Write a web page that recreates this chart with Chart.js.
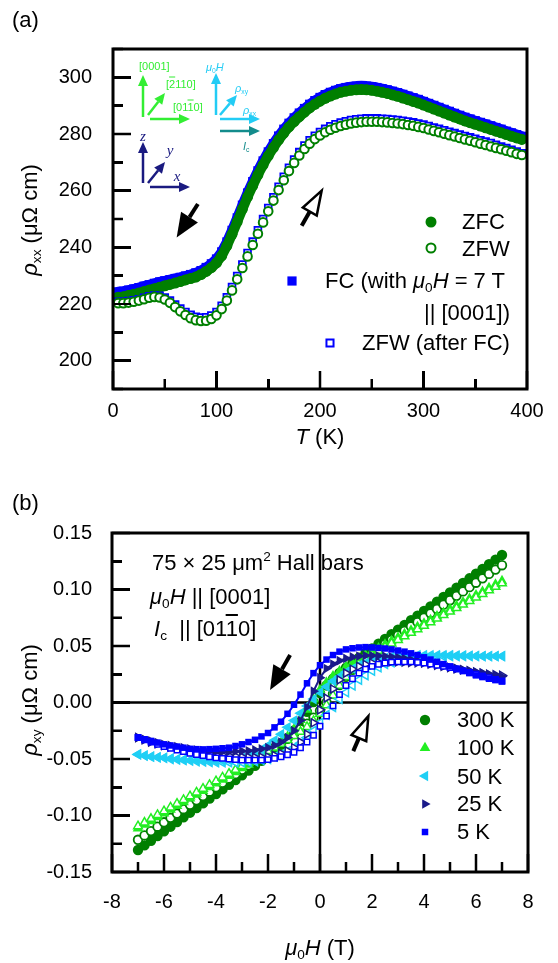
<!DOCTYPE html>
<html>
<head>
<meta charset="utf-8">
<title>rho_xx (T) and Hall loops</title>
<script src="https://cdn.jsdelivr.net/npm/chart.js@4.4.1/dist/chart.umd.min.js"></script>
<style>
  html, body { margin: 0; padding: 0; background: #fff; }
  #fig { position: relative; width: 558px; height: 963px; overflow: hidden;
         font-family: "Liberation Sans", Arial, sans-serif; color: #000; }
  #fig canvas { position: absolute; left: 0; }
  .t { position: absolute; white-space: nowrap; line-height: 1; font-size: 22px; transform: translateY(-50%); }
  .c { transform: translate(-50%, -50%); }
  .r { transform: translate(-100%, -50%); }
  .rot { transform: translate(-50%, -50%) rotate(-90deg); }
  .s { font-size: 11px; }
  .ax { font-family: "Liberation Serif", "DejaVu Serif", serif; font-style: italic; font-size: 15px; }
  .ov { text-decoration: overline; }
  .tk { position: absolute; background: #000; }
  sub, sup { font-size: 62%; line-height: 0; }
  sub { vertical-align: -0.3em; }
  sup { vertical-align: 0.65em; }
</style>
</head>
<body>
<div id="fig">
  <canvas id="chartA" width="558" height="470" style="top:0"></canvas>
  <canvas id="chartB" width="558" height="493" style="top:470px"></canvas>

  <div class="t" style="left:12px;top:20px">(a)</div>
  <div class="t" style="left:12px;top:503px">(b)</div>
  <div class="t rot" style="left:30px;top:220px"><i>ρ</i><sub>xx</sub> (μΩ cm)</div>
  <div class="t rot" style="left:30px;top:700px"><i>ρ</i><sub>xy</sub> (μΩ cm)</div>
  <div class="t c" style="left:320px;top:437px"><i>T</i> (K)</div>
  <div class="t c" style="left:320px;top:948px"><i>μ</i><sub>0</sub><i>H</i> (T)</div>

  <!-- legend (a) -->
  <div class="t" style="left:462px;top:222px">ZFC</div>
  <div class="t" style="left:462px;top:249px">ZFW</div>
  <div class="t" style="left:325px;top:281px">FC (with <i>μ</i><sub>0</sub><i>H</i> = 7 T</div>
  <div class="t r" style="left:510px;top:313px">|| [0001])</div>
  <div class="t" style="left:362px;top:343px">ZFW (after FC)</div>

  <!-- crystal axes inset (a) -->
  <div class="t s" style="left:139px;top:66px;color:#33ee33">[0001]</div>
  <div class="t s" style="left:166px;top:84px;color:#33ee33">[<span class="ov">2</span>110]</div>
  <div class="t s" style="left:173px;top:107px;color:#33ee33">[01<span class="ov">1</span>0]</div>
  <div class="t s" style="left:206px;top:67px;color:#22ccf5"><i>μ</i><sub>0</sub><i>H</i></div>
  <div class="t s" style="left:235px;top:88px;color:#22ccf5"><i>ρ</i><sub>xy</sub></div>
  <div class="t s" style="left:243px;top:110px;color:#22ccf5"><i>ρ</i><sub>xx</sub></div>
  <div class="t s" style="left:243px;top:146px;color:#138c8c"><i>I</i><sub>c</sub></div>
  <div class="t c ax" style="left:143px;top:136px;color:#1a1a80">z</div>
  <div class="t c ax" style="left:170px;top:150px;color:#1a1a80">y</div>
  <div class="t c ax" style="left:177px;top:176px;color:#1a1a80">x</div>

  <!-- annotation (b) -->
  <div class="t" style="left:152px;top:563px">75 × 25 μm<sup>2</sup> Hall bars</div>
  <div class="t" style="left:150px;top:597px"><i>μ</i><sub>0</sub><i>H</i> || [0001]</div>
  <div class="t" style="left:154px;top:629px"><i>I</i><sub>c</sub>&nbsp; || [01<span class="ov">1</span>0]</div>

  <!-- legend (b) -->
  <div class="t" style="left:457px;top:720px">300 K</div>
  <div class="t" style="left:457px;top:748px">100 K</div>
  <div class="t" style="left:457px;top:777px">50 K</div>
  <div class="t" style="left:457px;top:804px">25 K</div>
  <div class="t" style="left:457px;top:832px">5 K</div>
</div>

<script>
// ---------- panel (a): rho_xx vs T ----------
const tempK = [5,10,15,20,25,30,35,40,45,50,55,60,65,70,75,80,85,90,95,100,
  105,110,115,120,125,130,135,140,145,150,155,160,165,170,175,180,185,190,195,200,
  205,210,215,220,225,230,235,240,245,250,255,260,265,270,275,280,285,290,295,300,
  305,310,315,320,325,330,335,340,345,350,355,360,365,370,375,380,385,390,395];
const rhoZFC = [222.4,222.6,223.0,223.4,223.9,224.4,224.9,225.4,225.9,226.4,226.9,227.4,227.9,228.5,229.0,229.5,230.4,231.5,232.8,234.5,
  237.0,240.5,244.6,249.0,253.5,257.8,261.8,265.6,269.1,272.3,275.2,277.9,280.3,282.5,284.4,286.1,287.7,289.2,290.5,291.6,
  292.6,293.4,294.1,294.7,295.1,295.4,295.6,295.7,295.6,295.4,295.1,294.7,294.3,293.8,293.3,292.7,292.1,291.5,290.9,290.2,
  289.5,288.8,288.1,287.4,286.7,286.0,285.3,284.6,284.0,283.4,282.8,282.2,281.6,281.0,280.4,279.8,279.2,278.6,278.1];
const rhoFC = [224.3,224.5,224.9,225.3,225.8,226.3,226.8,227.3,227.8,228.2,228.6,229.0,229.4,229.9,230.4,231.0,231.8,232.9,234.2,235.9,
  238.4,241.9,246.0,250.4,254.9,259.2,263.2,267.0,270.5,273.7,276.6,279.3,281.7,283.8,285.7,287.4,289.0,290.5,291.8,292.9,
  293.9,294.7,295.4,296.0,296.4,296.7,296.9,297.0,296.9,296.7,296.4,296.0,295.6,295.1,294.6,294.0,293.4,292.8,292.2,291.5,
  290.8,290.1,289.4,288.7,288.0,287.3,286.6,285.9,285.3,284.7,284.1,283.5,282.9,282.3,281.7,281.0,280.4,279.8,279.2];
const rhoZFW = [220.3,220.3,220.5,220.8,221.2,221.7,222.2,222.5,222.3,221.6,220.4,218.9,217.4,216.1,215.0,214.3,214.0,214.1,214.7,216.0,
  218.2,221.2,224.8,228.7,232.7,236.8,240.8,244.8,248.8,252.7,256.5,260.2,263.7,266.9,269.8,272.4,274.7,276.6,278.2,279.5,
  280.6,281.5,282.2,282.8,283.3,283.7,284.0,284.2,284.3,284.3,284.3,284.2,284.1,283.9,283.7,283.5,283.2,282.9,282.5,282.1,
  281.6,281.1,280.6,280.1,279.6,279.1,278.6,278.1,277.6,277.1,276.6,276.1,275.6,275.1,274.6,274.1,273.6,273.0,272.6];
const rhoZFWafterFC = [220.8,220.8,221.0,221.3,221.7,222.2,222.7,223.0,222.9,222.3,221.2,219.8,218.4,217.2,216.2,215.5,215.2,215.3,215.9,217.2,
  219.4,222.4,226.0,229.9,233.9,238.0,242.0,246.0,250.0,253.9,257.7,261.4,264.9,268.1,271.0,273.6,275.9,277.8,279.4,280.7,
  281.8,282.7,283.4,284.0,284.5,284.9,285.2,285.4,285.5,285.5,285.5,285.4,285.3,285.1,284.9,284.7,284.4,284.1,283.7,283.3,
  282.8,282.3,281.8,281.3,280.8,280.3,279.8,279.3,278.8,278.3,277.8,277.3,276.8,276.2,275.6,275.0,274.4,273.8,273.2];
const xTicksA = [0, 100, 200, 300, 400];
const yTicksA = [200, 220, 240, 260, 280, 300];

// ---------- panel (b): rho_xy vs field, sweep down (filled) / sweep up (open) ----------
const fieldT = [-7,-6.75,-6.5,-6.25,-6,-5.75,-5.5,-5.25,-5,-4.75,-4.5,-4.25,-4,-3.75,-3.5,-3.25,-3,-2.75,-2.5,-2.25,
  -2,-1.75,-1.5,-1.25,-1,-0.75,-0.5,-0.25,0,0.25,0.5,0.75,1,1.25,1.5,1.75,2,2.25,2.5,2.75,
  3,3.25,3.5,3.75,4,4.25,4.5,4.75,5,5.25,5.5,5.75,6,6.25,6.5,6.75,7];
const hall300Down = [-0.1305,-0.1264,-0.1223,-0.1181,-0.1140,-0.1099,-0.1058,-0.1016,-0.0975,-0.0934,-0.0893,-0.0851,-0.0810,-0.0769,-0.0728,-0.0686,
  -0.0644,-0.0603,-0.0561,-0.0517,-0.0473,-0.0426,-0.0375,-0.0316,-0.0248,-0.0169,-0.0083,0.0004,0.0083,
  0.0151,0.0210,0.0261,0.0308,0.0352,0.0396,0.0438,0.0479,0.0521,0.0563,0.0604,0.0645,0.0686,0.0728,
  0.0769,0.0810,0.0851,0.0893,0.0934,0.0975,0.1016,0.1058,0.1099,0.1140,0.1181,0.1223,0.1264,0.1305];
const hall300Up = [-0.1215,-0.1176,-0.1138,-0.1099,-0.1060,-0.1021,-0.0983,-0.0944,-0.0905,-0.0866,-0.0828,-0.0789,-0.0750,-0.0711,-0.0673,-0.0634,
  -0.0595,-0.0556,-0.0518,-0.0479,-0.0440,-0.0400,-0.0361,-0.0321,-0.0279,-0.0235,-0.0188,-0.0134,-0.0072,
  0.0000,0.0078,0.0155,0.0227,0.0289,0.0343,0.0390,0.0434,0.0476,0.0516,0.0555,0.0594,0.0634,0.0673,
  0.0711,0.0750,0.0789,0.0828,0.0866,0.0905,0.0944,0.0983,0.1021,0.1060,0.1099,0.1138,0.1176,0.1215];
const hall100Down = [-0.1115,-0.1082,-0.1049,-0.1015,-0.0982,-0.0949,-0.0916,-0.0882,-0.0849,-0.0816,-0.0783,-0.0749,-0.0716,-0.0683,-0.0650,-0.0616,
  -0.0582,-0.0549,-0.0514,-0.0479,-0.0443,-0.0403,-0.0357,-0.0303,-0.0236,-0.0155,-0.0063,0.0030,0.0111,
  0.0178,0.0233,0.0277,0.0316,0.0351,0.0385,0.0418,0.0449,0.0481,0.0513,0.0544,0.0575,0.0606,0.0638,
  0.0669,0.0700,0.0731,0.0763,0.0794,0.0825,0.0856,0.0888,0.0919,0.0950,0.0981,0.1013,0.1044,0.1075];
const hall100Up = [-0.1095,-0.1062,-0.1029,-0.0995,-0.0962,-0.0929,-0.0896,-0.0862,-0.0829,-0.0796,-0.0763,-0.0729,-0.0696,-0.0663,-0.0630,-0.0596,
  -0.0563,-0.0530,-0.0497,-0.0463,-0.0430,-0.0398,-0.0366,-0.0332,-0.0297,-0.0259,-0.0216,-0.0163,-0.0100,
  -0.0024,0.0063,0.0149,0.0225,0.0288,0.0341,0.0384,0.0422,0.0457,0.0491,0.0523,0.0554,0.0586,0.0618,
  0.0649,0.0680,0.0711,0.0743,0.0774,0.0805,0.0836,0.0868,0.0899,0.0930,0.0961,0.0993,0.1024,0.1055];
const hall50Down = [-0.046,-0.047,-0.048,-0.0485,-0.049,-0.0495,-0.050,-0.0505,-0.051,-0.0513,-0.0516,-0.0518,-0.052,-0.0516,-0.051,-0.050,
  -0.049,-0.0475,-0.045,-0.042,-0.038,-0.0335,-0.028,-0.022,-0.016,-0.0095,-0.003,0.003,0.009,
  0.014,0.019,0.023,0.027,0.030,0.033,0.035,0.037,0.0385,0.0395,0.0405,0.041,0.0415,0.042,
  0.042,0.042,0.042,0.042,0.042,0.042,0.0418,0.0416,0.0414,0.0412,0.041,0.041,0.041,0.041];
const hall50Up = [-0.046,-0.047,-0.048,-0.0485,-0.049,-0.050,-0.0505,-0.051,-0.0515,-0.052,-0.0523,-0.0527,-0.053,-0.053,-0.053,-0.053,
  -0.053,-0.0525,-0.052,-0.051,-0.050,-0.048,-0.046,-0.0435,-0.040,-0.036,-0.031,-0.025,-0.018,
  -0.011,-0.004,0.003,0.009,0.015,0.020,0.024,0.028,0.031,0.034,0.0355,0.037,0.038,0.039,
  0.0395,0.040,0.0403,0.0406,0.0408,0.041,0.041,0.041,0.041,0.041,0.041,0.041,0.041,0.041];
const hall25Down = [-0.031,-0.0325,-0.034,-0.0355,-0.037,-0.038,-0.039,-0.040,-0.041,-0.0418,-0.0425,-0.043,-0.0435,-0.0435,-0.0435,-0.0433,
  -0.043,-0.0427,-0.042,-0.041,-0.040,-0.038,-0.035,-0.031,-0.025,-0.016,-0.004,0.010,0.022,
  0.030,0.034,0.037,0.039,0.0403,0.041,0.0415,0.0415,0.0413,0.041,0.0405,0.040,0.039,0.038,
  0.037,0.036,0.035,0.034,0.0325,0.031,0.030,0.029,0.028,0.027,0.026,0.025,0.024,0.023];
const hall25Up = [-0.031,-0.033,-0.035,-0.0365,-0.038,-0.0393,-0.0405,-0.0418,-0.043,-0.0438,-0.0445,-0.0453,-0.046,-0.0465,-0.047,-0.0475,
  -0.048,-0.0483,-0.0485,-0.0483,-0.048,-0.0468,-0.045,-0.0428,-0.040,-0.035,-0.028,-0.018,-0.0065,
  0.004,0.012,0.020,0.026,0.0295,0.032,0.0337,0.035,0.0355,0.036,0.036,0.036,0.0358,0.0355,
  0.0353,0.035,0.034,0.033,0.032,0.031,0.030,0.029,0.028,0.027,0.026,0.025,0.0245,0.024];
const hall5Down = [-0.031,-0.0325,-0.034,-0.0355,-0.037,-0.038,-0.039,-0.040,-0.041,-0.0413,-0.0415,-0.0413,-0.041,-0.0405,-0.040,-0.0385,
  -0.037,-0.035,-0.033,-0.030,-0.027,-0.022,-0.017,-0.010,-0.002,0.007,0.017,0.026,0.033,
  0.038,0.042,0.045,0.047,0.048,0.0487,0.049,0.0487,0.0483,0.0478,0.047,0.046,0.045,0.0435,
  0.042,0.040,0.038,0.036,0.034,0.032,0.030,0.028,0.026,0.024,0.0225,0.021,0.0198,0.0186];
const hall5Up = [-0.031,-0.033,-0.035,-0.037,-0.039,-0.0405,-0.042,-0.0435,-0.045,-0.046,-0.047,-0.048,-0.049,-0.0495,-0.050,-0.0505,
  -0.051,-0.051,-0.051,-0.051,-0.0505,-0.0495,-0.048,-0.0462,-0.044,-0.040,-0.035,-0.029,-0.021,
  -0.012,-0.003,0.007,0.015,0.021,0.026,0.0295,0.032,0.0338,0.035,0.0357,0.036,0.036,0.036,
  0.0355,0.035,0.034,0.033,0.032,0.031,0.0295,0.028,0.0265,0.025,0.0235,0.022,0.0205,0.019];
const xTicksB = [-8, -6, -4, -2, 0, 2, 4, 6, 8];
const yTicksB = [-0.15, -0.10, -0.05, 0, 0.05, 0.10, 0.15];

// axis ranges, minor steps and tick mark lengths (px)
const axesA = { x: { min: 0, max: 400, minor: 50, major: xTicksA }, y: { min: 190, max: 310, minor: 10, major: yTicksA }, majLen: 18, minLen: 10 };
const axesB = { x: { min: -8, max: 8, minor: 1, major: xTicksB }, y: { min: -0.15, max: 0.15, minor: 0.025, major: yTicksB }, majLen: 18, minLen: 10 };

const DKGREEN = '#007f00', BLUE = '#0000ff';
const C300 = '#007f00', C100 = '#22ee22', C50 = '#1fcff5', C25 = '#1a1a8a', C5 = '#0000ff';

Chart.defaults.font.family = '"Liberation Sans", Arial, sans-serif';
Chart.defaults.color = '#000';

function pts(xs, ys) { return xs.map((v, i) => ({ x: v, y: ys[i] })); }

function series(label, xs, ys, mk, order, lineWidth) {
  return {
    label, order, data: pts(xs, ys),
    pointStyle: mk.shape, pointRadius: mk.r, pointRotation: mk.rot || 0,
    pointBackgroundColor: mk.bg, pointBorderColor: mk.border || mk.bg, pointBorderWidth: mk.bw || 0,
    showLine: !!lineWidth, borderColor: mk.border || mk.bg, borderWidth: lineWidth || 0,
    borderJoinStyle: 'round', borderCapStyle: 'round'
  };
}

function axis(ax, fmt, pad, size, horizontal) {
  return {
    type: 'linear', min: ax.min, max: ax.max,
    grid: { display: false, drawTicks: false },
    border: { display: false },
    ticks: { font: { size: 20 }, color: '#000', padding: pad, autoSkip: false, maxRotation: 0,
             callback: v => fmt(v) },
    afterBuildTicks: s => { s.ticks = ax.major.map(v => ({ value: v })); },
    afterFit: s => { if (horizontal) s.height = size; else s.width = size; }
  };
}

function arrow(ctx, x1, y1, x2, y2, opt) {
  const a = Math.atan2(y2 - y1, x2 - x1);
  const bx = x2 - opt.len * Math.cos(a), by = y2 - opt.len * Math.sin(a);
  const nx = Math.sin(a) * opt.half, ny = -Math.cos(a) * opt.half;
  ctx.save();
  ctx.strokeStyle = opt.color; ctx.fillStyle = opt.color;
  ctx.lineWidth = opt.width; ctx.lineCap = 'butt';
  ctx.beginPath(); ctx.moveTo(x1, y1); ctx.lineTo(bx, by); ctx.stroke();
  ctx.beginPath(); ctx.moveTo(x2, y2); ctx.lineTo(bx + nx, by + ny); ctx.lineTo(bx - nx, by - ny); ctx.closePath();
  if (opt.hollow) { ctx.fillStyle = '#fff'; ctx.fill(); ctx.lineJoin = 'miter'; ctx.lineWidth = 2.5; ctx.stroke(); }
  else ctx.fill();
  ctx.restore();
}

function marker(ctx, mk, x, y) {
  ctx.save();
  ctx.fillStyle = mk.bg; ctx.strokeStyle = mk.border || mk.bg; ctx.lineWidth = mk.bw || 0;
  Chart.helpers.drawPoint(ctx, { pointStyle: mk.shape, radius: mk.r, rotation: mk.rot || 0, borderWidth: mk.bw || 0 }, x, y);
  ctx.restore();
}

// tick mark rectangles (x, y, w, h) for the inward ticks on the bottom and left edges
function tickRects(chart, axes) {
  const a = chart.chartArea, sx = chart.scales.x, sy = chart.scales.y;
  const out = [];
  const nx = Math.round((axes.x.max - axes.x.min) / axes.x.minor);
  for (let i = 0; i <= nx; i++) {
    const v = axes.x.min + i * axes.x.minor, p = sx.getPixelForValue(v);
    const len = axes.x.major.some(m => Math.abs(m - v) < 1e-6) ? axes.majLen : axes.minLen;
    out.push([p - 1.25, a.bottom - len, 2.5, len]);
  }
  const ny = Math.round((axes.y.max - axes.y.min) / axes.y.minor);
  for (let i = 0; i <= ny; i++) {
    const v = axes.y.min + i * axes.y.minor, p = sy.getPixelForValue(v);
    const len = axes.y.major.some(m => Math.abs(m - v) < 1e-6) ? axes.majLen : axes.minLen;
    out.push([a.left, p - 1.25, len, 2.5]);
  }
  return out;
}

function drawTicks(chart, axes) {
  const ctx = chart.ctx;
  ctx.save();
  ctx.fillStyle = '#000';
  tickRects(chart, axes).forEach(r => ctx.fillRect(r[0], r[1], r[2], r[3]));
  ctx.restore();
}

// same tick marks as page elements on top of the canvas
function domTicks(chart, axes, top) {
  const fig = document.getElementById('fig');
  tickRects(chart, axes).forEach(r => {
    const d = document.createElement('div');
    d.className = 'tk';
    d.style.left = r[0] + 'px'; d.style.top = (top + r[1]) + 'px';
    d.style.width = r[2] + 'px'; d.style.height = r[3] + 'px';
    fig.appendChild(d);
  });
}

function drawBox(chart) {
  const ctx = chart.ctx, a = chart.chartArea;
  ctx.save();
  ctx.strokeStyle = '#000';
  ctx.lineWidth = 3;
  ctx.strokeRect(a.left, a.top, a.right - a.left, a.bottom - a.top);
  ctx.restore();
}

// ---------- chart (a) ----------
const mkZFC = { shape: 'circle', r: 5.5, bg: DKGREEN };
const mkZFW = { shape: 'circle', r: 4.3, bg: '#fff', border: DKGREEN, bw: 2 };
const mkFC = { shape: 'rect', r: 6.5, bg: BLUE };
const mkZFWfc = { shape: 'rect', r: 4.8, bg: '#fff', border: BLUE, bw: 1.8 };

// black sweep arrows, in data units (T, rho)
const sweepArrowsA = [
  { from: [82, 255.3], to: [61.5, 243.5], hollow: false },
  { from: [182.3, 247.6], to: [201.6, 260.0], hollow: true }
];
// orientation sketch, offsets in px from the top-left of the plot box
const insetArrows = [
  { c: '#33ee33', from: [30, 68], to: [30, 26] }, { c: '#33ee33', from: [35, 66], to: [52, 44] }, { c: '#33ee33', from: [37, 70], to: [77, 70] },
  { c: '#22ccf5', from: [103, 66], to: [103, 24] }, { c: '#22ccf5', from: [107, 66], to: [124, 46] }, { c: '#22ccf5', from: [107, 70], to: [147, 70] },
  { c: '#138c8c', from: [107, 82], to: [147, 82] },
  { c: '#1a1a80', from: [30, 134], to: [30, 93] }, { c: '#1a1a80', from: [35, 134], to: [52, 113] }, { c: '#1a1a80', from: [37, 138], to: [77, 138] }
];

const decoA = {
  id: 'decoA',
  beforeDatasetsDraw(chart) { drawTicks(chart, axesA); },
  afterDatasetsDraw(chart) {
    const { ctx, chartArea: a, scales: { x, y } } = chart;
    insetArrows.forEach(r => arrow(ctx, a.left + r.from[0], a.top + r.from[1], a.left + r.to[0], a.top + r.to[1],
      { color: r.c, width: 2.5, len: 11, half: 5 }));
    sweepArrowsA.forEach(r => arrow(ctx, x.getPixelForValue(r.from[0]), y.getPixelForValue(r.from[1]),
      x.getPixelForValue(r.to[0]), y.getPixelForValue(r.to[1]),
      { color: '#000', width: 4, len: 24, half: r.hollow ? 8 : 10, hollow: r.hollow }));
    marker(ctx, { shape: 'circle', r: 5.5, bg: DKGREEN }, a.left + 318, a.top + 173);
    marker(ctx, { shape: 'circle', r: 4.5, bg: '#fff', border: DKGREEN, bw: 2 }, a.left + 318, a.top + 199);
    marker(ctx, { shape: 'rect', r: 6.5, bg: BLUE }, a.left + 179, a.top + 232);
    marker(ctx, { shape: 'rect', r: 5, bg: '#fff', border: BLUE, bw: 2 }, a.left + 217, a.top + 294);
    drawBox(chart);
  }
};

const chartA = new Chart(document.getElementById('chartA'), {
  type: 'scatter',
  data: {
    datasets: [
      series('ZFW', tempK, rhoZFW, mkZFW, 0),
      series('ZFW (after FC)', tempK, rhoZFWafterFC, mkZFWfc, 1),
      series('ZFC', tempK, rhoZFC, mkZFC, 2, 10),
      series('FC', tempK, rhoFC, mkFC, 3, 10)
    ]
  },
  options: {
    responsive: false, animation: false, devicePixelRatio: 1, events: [],
    layout: { padding: { left: 33, right: 31, top: 49, bottom: 31 } },
    plugins: { legend: { display: false }, tooltip: { enabled: false } },
    scales: {
      x: axis(axesA.x, v => String(v), 10, 50, true),
      y: axis(axesA.y, v => String(v), 21, 80, false)
    }
  },
  plugins: [decoA]
});

// ---------- chart (b) ----------
const mk300 = { shape: 'circle', r: 5.2, bg: C300 };
const mk300o = { shape: 'circle', r: 4.3, bg: '#fff', border: C300, bw: 1.8 };
const mk100 = { shape: 'triangle', r: 6.2, bg: C100 };
const mk100o = { shape: 'triangle', r: 5, bg: '#fff', border: C100, bw: 1.5 };
const mk50 = { shape: 'triangle', r: 6.2, rot: -90, bg: C50 };
const mk50o = { shape: 'triangle', r: 5, rot: -90, bg: '#fff', border: C50, bw: 1.5 };
const mk25 = { shape: 'triangle', r: 5.6, rot: 90, bg: C25 };
const mk25o = { shape: 'triangle', r: 4.6, rot: 90, bg: '#fff', border: C25, bw: 1.5 };
const mk5 = { shape: 'rect', r: 4.6, bg: C5 };
const mk5o = { shape: 'rect', r: 3.8, bg: '#fff', border: C5, bw: 1.5 };

const sweepArrowsB = [
  { from: [-1.15, 0.042], to: [-1.92, 0.011], hollow: false },
  { from: [1.28, -0.043], to: [1.86, -0.012], hollow: true }
];
const legendB = [mk300, mk100, mk50, mk25, mk5];

const decoB = {
  id: 'decoB',
  beforeDatasetsDraw(chart) {
    const { ctx, chartArea: a, scales: { x, y } } = chart;
    const x0 = x.getPixelForValue(0), y0 = y.getPixelForValue(0);
    drawTicks(chart, axesB);
    ctx.save();
    ctx.fillStyle = '#000';
    ctx.fillRect(a.left, y0 - 1.25, a.right - a.left, 2.5);
    ctx.fillRect(x0 - 1.25, a.top, 2.5, a.bottom - a.top);
    ctx.restore();
  },
  afterDatasetsDraw(chart) {
    const { ctx, chartArea: a, scales: { x, y } } = chart;
    sweepArrowsB.forEach(r => arrow(ctx, x.getPixelForValue(r.from[0]), y.getPixelForValue(r.from[1]),
      x.getPixelForValue(r.to[0]), y.getPixelForValue(r.to[1]),
      { color: '#000', width: 4, len: 24, half: r.hollow ? 8 : 10, hollow: r.hollow }));
    legendB.forEach((mk, i) => marker(ctx, mk, a.left + 313, a.top + 187 + i * 28));
    drawBox(chart);
  }
};

const chartB = new Chart(document.getElementById('chartB'), {
  type: 'scatter',
  data: {
    datasets: [
      series('5 K', fieldT, hall5Down, mk5, 0, 2),
      series('5 K up', fieldT, hall5Up, mk5o, 1),
      series('25 K', fieldT, hall25Down, mk25, 2, 2),
      series('25 K up', fieldT, hall25Up, mk25o, 3),
      series('50 K', fieldT, hall50Down, mk50, 4),
      series('50 K up', fieldT, hall50Up, mk50o, 5),
      series('100 K up', fieldT, hall100Up, mk100o, 6),
      series('100 K', fieldT, hall100Down, mk100, 7),
      series('300 K up', fieldT, hall300Up, mk300o, 8),
      series('300 K', fieldT, hall300Down, mk300, 9)
    ]
  },
  options: {
    responsive: false, animation: false, devicePixelRatio: 1, events: [],
    layout: { padding: { left: 32, right: 30, top: 63, bottom: 41 } },
    plugins: { legend: { display: false }, tooltip: { enabled: false } },
    scales: {
      x: axis(axesB.x, v => String(v), 18, 50, true),
      y: axis(axesB.y, v => v.toFixed(2), 20, 80, false)
    }
  },
  plugins: [decoB]
});

domTicks(chartA, axesA, 0);
domTicks(chartB, axesB, 470);
</script>
</body>
</html>
